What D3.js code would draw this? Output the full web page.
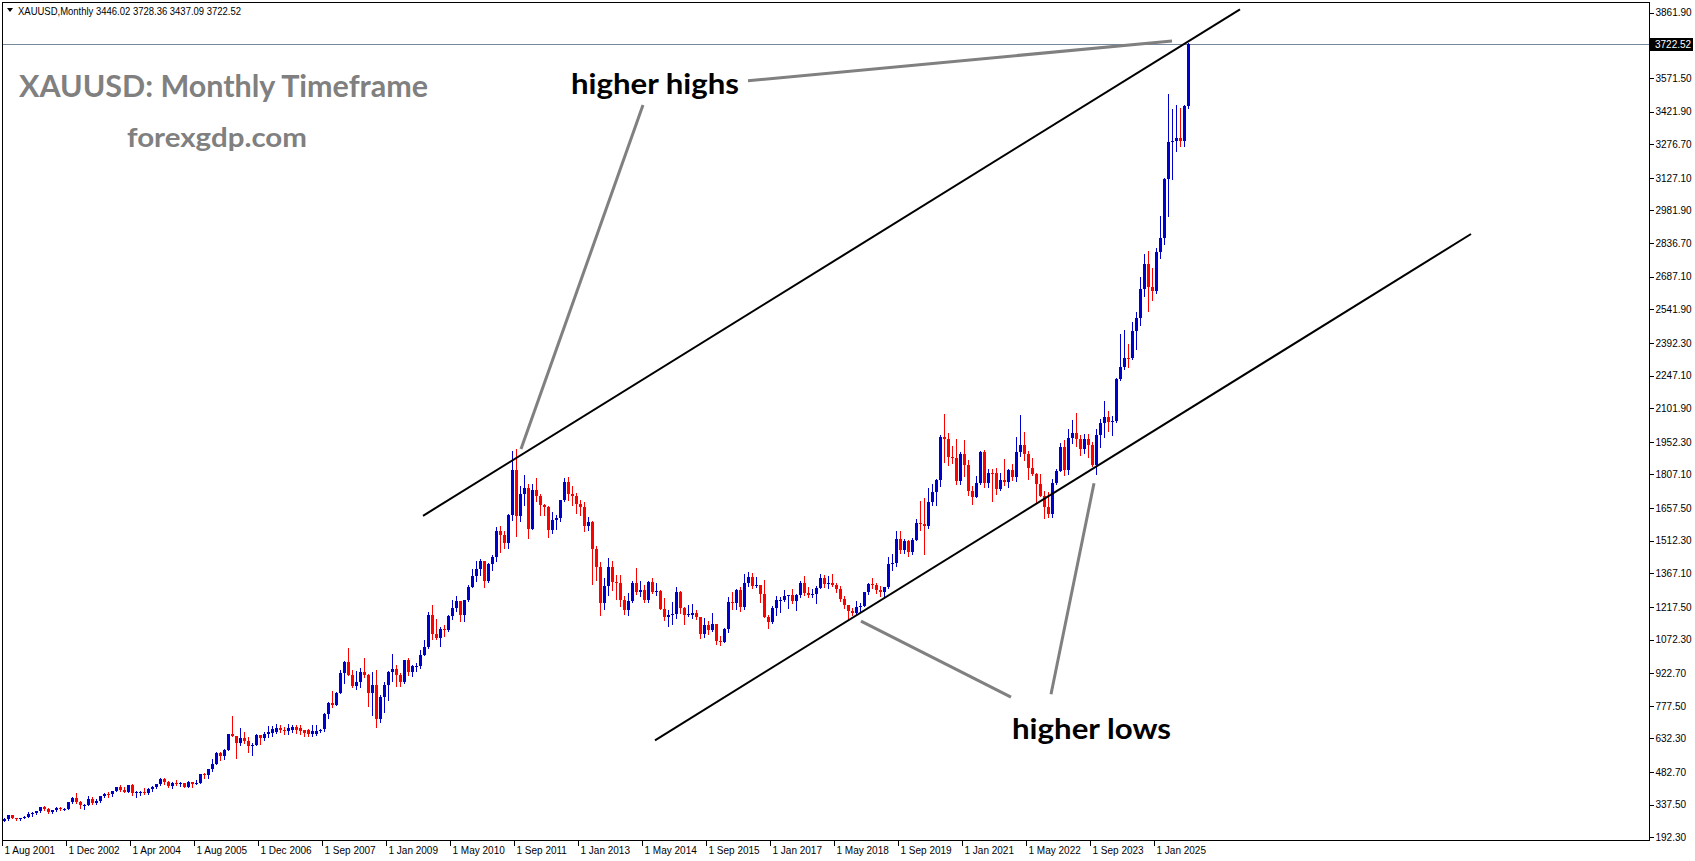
<!DOCTYPE html>
<html>
<head>
<meta charset="utf-8">
<script src="https://cdn.jsdelivr.net/npm/d3@7"></script>
<style>
  html, body { margin: 0; padding: 0; background: #fff; }
  svg { display: block; font-family: "Liberation Sans", Arial, sans-serif; }
</style>
</head>
<body>
<svg id="chart" width="1695" height="861"></svg>
<script>
// XAUUSD monthly candles, one bar per row of the MT4 history (Aug 2001 .. Sep 2025).
// Each line below is one calendar year; the 2007 line carries the broker's odd extra bars.
const barOpen = [
  265.5, 273.0, 293.1, 278.8, 275.0,
  279.0, 282.3, 296.8, 301.4, 308.2, 326.6, 318.5, 304.7, 312.8, 323.7, 316.9, 317.6,
  347.2, 367.5, 347.5, 334.9, 336.8, 363.8, 346.0, 354.8, 375.6, 385.0, 384.0, 398.4,
  416.3, 402.0, 396.0, 426.0, 387.5, 394.0, 395.0, 391.0, 408.5, 415.5, 428.0, 452.5,
  438.0, 422.0, 435.0, 428.0, 435.5, 416.5, 436.5, 429.0, 433.0, 472.5, 470.0, 494.5,
  517.0, 569.0, 556.0, 583.0, 654.0, 643.0, 614.0, 633.0, 623.0, 599.0, 604.0, 646.0,
  632.0, 652.0, 655.0, 662.0, 680.0, 670.0, 665.0, 670.0, 684.0, 680.0, 670.0, 668.0, 650.0, 652.0, 666.0, 672.6, 742.8, 789.0, 783.0,
  834, 923, 972, 916, 865, 885, 926, 913, 833, 871, 717, 815,
  869, 927, 942, 916, 883, 980, 926, 955, 955, 1003, 1040, 1182,
  1096, 1081, 1118, 1113, 1179, 1212, 1244, 1181, 1248, 1307, 1357, 1386,
  1421, 1332, 1410, 1439, 1556, 1536, 1500, 1628, 1826, 1620, 1722, 1746,
  1565, 1738, 1711, 1669, 1664, 1561, 1604, 1614, 1692, 1773, 1719, 1711,
  1675, 1663, 1578, 1596, 1476, 1393, 1234, 1312, 1396, 1327, 1323, 1250,
  1202, 1244, 1326, 1284, 1295, 1250, 1327, 1282, 1287, 1210, 1171, 1183,
  1184, 1283, 1213, 1183, 1183, 1190, 1172, 1095, 1135, 1115, 1142, 1065,
  1061, 1118, 1238, 1233, 1293, 1215, 1322, 1351, 1309, 1316, 1277, 1173,
  1152, 1211, 1249, 1249, 1268, 1269, 1242, 1269, 1322, 1280, 1271, 1275,
  1303, 1345, 1318, 1325, 1315, 1298, 1253, 1224, 1201, 1192, 1215, 1222,
  1282, 1321, 1313, 1292, 1284, 1305, 1409, 1413, 1520, 1472, 1513, 1464,
  1517, 1589, 1585, 1577, 1686, 1730, 1781, 1975, 1967, 1886, 1879, 1776,
  1898, 1847, 1734, 1708, 1769, 1906, 1770, 1814, 1813, 1743, 1783, 1774,
  1829, 1796, 1909, 1937, 1896, 1837, 1807, 1766, 1711, 1660, 1633, 1768,
  1824, 1928, 1827, 1969, 1990, 1963, 1919, 1965, 1940, 1849, 1983, 2036,
  2063, 2039, 2044, 2230, 2286, 2327, 2326, 2447, 2503, 2634, 2744, 2643,
  2624, 2798, 2858, 3124, 3288, 3289, 3303, 3290, 3446.02
];
const barHigh = [
  280.0, 293.5, 293.3, 280.0, 280.0,
  287.0, 303.0, 304.0, 310.0, 328.0, 330.0, 322.0, 316.0, 327.0, 325.0, 323.0, 349.0,
  373.0, 389.0, 352.0, 341.0, 374.0, 371.0, 361.0, 377.0, 390.0, 392.0, 400.0, 417.0,
  427.0, 418.0, 427.0, 428.0, 397.0, 398.0, 410.0, 411.0, 419.0, 431.0, 455.0, 456.0,
  443.0, 438.0, 447.0, 438.0, 436.0, 443.0, 439.0, 449.0, 474.0, 479.0, 496.0, 540.0,
  572.0, 574.0, 585.0, 654.0, 730.0, 643.0, 677.0, 663.0, 640.0, 610.0, 650.0, 648.0,
  660.0, 688.0, 687.0, 695.0, 692.0, 685.0, 695.0, 692.0, 692.0, 692.0, 672.0, 676.0, 690.0, 690.0, 676.0, 745.0, 795.0, 845.0, 838.0,
  935, 975, 1033, 937, 932, 945, 988, 917, 928, 935, 825, 882,
  932, 1006, 960, 925, 981, 991, 960, 966, 1025, 1070, 1195, 1227,
  1162, 1129, 1139, 1182, 1249, 1265, 1244, 1250, 1315, 1388, 1424, 1431,
  1424, 1412, 1448, 1575, 1577, 1557, 1632, 1913, 1921, 1756, 1803, 1764,
  1764, 1791, 1718, 1676, 1666, 1641, 1628, 1693, 1790, 1796, 1755, 1723,
  1694, 1684, 1617, 1601, 1488, 1417, 1348, 1434, 1424, 1361, 1361, 1267,
  1280, 1332, 1392, 1331, 1315, 1332, 1345, 1323, 1293, 1255, 1205, 1239,
  1308, 1288, 1219, 1224, 1232, 1205, 1174, 1170, 1157, 1191, 1143, 1088,
  1124, 1263, 1283, 1298, 1304, 1362, 1375, 1367, 1352, 1317, 1337, 1182,
  1220, 1264, 1261, 1295, 1271, 1296, 1274, 1331, 1357, 1306, 1299, 1309,
  1366, 1361, 1356, 1365, 1326, 1309, 1266, 1225, 1214, 1243, 1237, 1284,
  1326, 1347, 1324, 1310, 1306, 1439, 1453, 1555, 1557, 1518, 1516, 1525,
  1611, 1689, 1703, 1747, 1765, 1789, 1984, 2075, 1992, 1933, 1966, 1906,
  1959, 1872, 1755, 1798, 1913, 1916, 1832, 1833, 1834, 1814, 1877, 1831,
  1853, 1974, 2070, 1998, 1910, 1879, 1814, 1807, 1735, 1730, 1786, 1833,
  1949, 1959, 2009, 2048, 2079, 1983, 1987, 1987, 1953, 2009, 2052, 2135,
  2088, 2065, 2236, 2431, 2450, 2388, 2484, 2531, 2686, 2790, 2801, 2726,
  2817, 2956, 3128, 3500, 3435, 3452, 3439, 3453, 3728.36
];
const barLow = [
  264.5, 271.0, 276.0, 270.5, 271.5,
  277.0, 281.0, 288.0, 298.0, 306.0, 313.0, 301.0, 300.0, 311.0, 312.0, 314.0, 317.0,
  343.0, 344.0, 321.0, 319.0, 336.0, 342.0, 341.0, 351.0, 370.0, 370.0, 378.0, 397.0,
  399.0, 393.0, 392.0, 381.0, 372.0, 381.0, 387.0, 385.0, 398.0, 410.0, 423.0, 430.0,
  416.0, 411.0, 424.0, 421.0, 414.0, 414.0, 418.0, 428.0, 433.0, 458.0, 456.0, 489.0,
  517.0, 537.0, 540.0, 582.0, 641.0, 543.0, 605.0, 613.0, 573.0, 560.0, 603.0, 608.0,
  625.0, 640.0, 642.0, 655.0, 660.0, 652.0, 650.0, 660.0, 655.0, 652.0, 642.0, 642.0, 645.0, 648.0, 662.0, 666.0, 723.0, 774.0, 781.0,
  834, 880, 915, 861, 851, 860, 905, 775, 736, 681, 705, 752,
  802, 888, 866, 865, 880, 913, 908, 931, 946, 1002, 1033, 1075,
  1074, 1044, 1087, 1112, 1164, 1199, 1155, 1157, 1243, 1305, 1331, 1360,
  1308, 1329, 1381, 1422, 1462, 1478, 1478, 1605, 1532, 1602, 1671, 1523,
  1563, 1688, 1627, 1627, 1527, 1547, 1564, 1598, 1689, 1692, 1672, 1636,
  1626, 1555, 1562, 1321, 1338, 1180, 1208, 1270, 1291, 1251, 1221, 1187,
  1182, 1238, 1277, 1268, 1240, 1240, 1281, 1272, 1207, 1161, 1131, 1142,
  1167, 1191, 1142, 1175, 1170, 1162, 1077, 1085, 1098, 1112, 1052, 1046,
  1061, 1107, 1208, 1208, 1199, 1208, 1310, 1302, 1305, 1241, 1171, 1123,
  1146, 1180, 1194, 1245, 1214, 1236, 1205, 1262, 1272, 1260, 1263, 1236,
  1302, 1307, 1303, 1309, 1282, 1245, 1211, 1160, 1180, 1183, 1196, 1221,
  1276, 1302, 1281, 1266, 1267, 1301, 1381, 1400, 1459, 1459, 1445, 1454,
  1517, 1562, 1451, 1567, 1670, 1671, 1757, 1863, 1849, 1860, 1765, 1765,
  1802, 1717, 1677, 1705, 1765, 1750, 1751, 1688, 1721, 1737, 1759, 1753,
  1781, 1780, 1890, 1872, 1787, 1805, 1681, 1710, 1615, 1617, 1616, 1765,
  1823, 1805, 1810, 1949, 1932, 1893, 1903, 1885, 1846, 1810, 1931, 1973,
  2002, 1984, 2039, 2229, 2277, 2287, 2319, 2364, 2472, 2603, 2536, 2583,
  2614, 2772, 2833, 2957, 3121, 3246, 3268, 3268, 3437.09
];
const barClose = [
  273.0, 293.1, 278.8, 275.0, 279.0,
  282.3, 296.8, 301.4, 308.2, 326.6, 318.5, 304.7, 312.8, 323.7, 316.9, 317.6, 347.2,
  367.5, 347.5, 334.9, 336.8, 363.8, 346.0, 354.8, 375.6, 385.0, 384.0, 398.4, 416.3,
  402.0, 396.0, 426.0, 387.5, 394.0, 395.0, 391.0, 408.5, 415.5, 428.0, 452.5, 438.0,
  422.0, 435.0, 428.0, 435.5, 416.5, 436.5, 429.0, 433.0, 472.5, 470.0, 494.5, 517.0,
  569.0, 556.0, 583.0, 654.0, 643.0, 614.0, 633.0, 623.0, 599.0, 604.0, 646.0, 632.0,
  654.0, 660.0, 673.0, 680.0, 668.0, 666.0, 680.0, 682.0, 668.0, 666.0, 655.0, 650.0, 665.0, 666.0, 672.0, 742.8, 789.0, 783.0, 834.0,
  923, 972, 916, 865, 885, 926, 913, 833, 871, 717, 815, 869,
  927, 942, 916, 883, 980, 926, 955, 955, 1003, 1040, 1182, 1096,
  1081, 1118, 1113, 1179, 1212, 1244, 1181, 1248, 1307, 1357, 1386, 1421,
  1332, 1410, 1439, 1556, 1536, 1500, 1628, 1826, 1620, 1722, 1746, 1565,
  1738, 1711, 1669, 1664, 1561, 1604, 1614, 1692, 1773, 1719, 1711, 1675,
  1663, 1578, 1596, 1476, 1393, 1234, 1312, 1396, 1327, 1323, 1250, 1202,
  1244, 1326, 1284, 1295, 1250, 1327, 1282, 1287, 1210, 1171, 1183, 1184,
  1283, 1213, 1183, 1184, 1190, 1172, 1095, 1135, 1115, 1142, 1065, 1061,
  1118, 1238, 1233, 1293, 1215, 1322, 1351, 1309, 1316, 1277, 1173, 1152,
  1211, 1249, 1249, 1268, 1269, 1242, 1269, 1322, 1280, 1271, 1275, 1303,
  1345, 1318, 1325, 1315, 1298, 1253, 1224, 1201, 1192, 1215, 1222, 1282,
  1321, 1313, 1292, 1284, 1305, 1409, 1413, 1520, 1472, 1513, 1464, 1517,
  1589, 1585, 1577, 1686, 1730, 1781, 1975, 1967, 1886, 1879, 1776, 1898,
  1847, 1734, 1708, 1769, 1906, 1770, 1814, 1813, 1743, 1783, 1774, 1829,
  1796, 1909, 1937, 1896, 1837, 1807, 1766, 1711, 1660, 1633, 1768, 1824,
  1928, 1827, 1969, 1990, 1963, 1919, 1965, 1940, 1849, 1983, 2036, 2063,
  2039, 2044, 2230, 2286, 2327, 2326, 2447, 2503, 2634, 2744, 2643, 2624,
  2798, 2858, 3124, 3288, 3289, 3303, 3290, 3448, 3722.52
];

// time axis: MT4 writes a date every 16 bars
const timeLabelBars = [0, 16, 32, 48, 64, 80, 96, 112, 128, 144, 160, 176, 192, 208, 224, 240, 256, 272, 288];
const timeLabels = ["1 Aug 2001", "1 Dec 2002", "1 Apr 2004", "1 Aug 2005", "1 Dec 2006", "1 Sep 2007",
  "1 Jan 2009", "1 May 2010", "1 Sep 2011", "1 Jan 2013", "1 May 2014", "1 Sep 2015", "1 Jan 2017",
  "1 May 2018", "1 Sep 2019", "1 Jan 2021", "1 May 2022", "1 Sep 2023", "1 Jan 2025"];
const priceTicks = [192.30, 337.50, 482.70, 632.30, 777.50, 922.70, 1072.30, 1217.50, 1367.10, 1512.30,
  1657.50, 1807.10, 1952.30, 2101.90, 2247.10, 2392.30, 2541.90, 2687.10, 2836.70, 2981.90, 3127.10,
  3276.70, 3421.90, 3571.50, 3861.90];

// drawn objects, as [bar, price] end points
const channelLines = [
  [[104.75, 1623], [309, 3877]],
  [[162.75, 624], [366.75, 2877]]
];
const pointerLines = [
  [[129.25, 1920], [159.75, 3451]],
  [[186, 3559], [292, 3736]],
  [[214.25, 1154], [251.75, 816]],
  [[272.5, 1768], [261.75, 829]]
];
const notes = [
  { text: "higher highs", bar: 141.75, price: 3500, width: 168 },
  { text: "higher lows", bar: 252, price: 630, width: 159 }
];

const svg = d3.select("#chart");
const L = 2, R = 1649, T = 2, B = 840;
const n = barOpen.length;
const x = d3.scaleLinear().domain([0, n - 1]).range([4, 4 + 4 * (n - 1)]);
const y = d3.scaleLinear().domain([192.3, 3861.9]).range([837.3, 12.7]);

svg.append("defs").append("clipPath").attr("id", "plot")
  .append("rect").attr("x", L).attr("y", T).attr("width", R - L).attr("height", B - T);

// header line
const last = n - 1;
const head = svg.append("g").attr("font-size", 10.5).attr("fill", "#000");
head.append("path").attr("d", "M7,8 L13,8 L10,12 Z").attr("fill", "#000");
head.append("text").attr("x", 18).attr("y", 15)
  .attr("textLength", 223).attr("lengthAdjust", "spacingAndGlyphs")
  .text(`XAUUSD,Monthly  ${barOpen[last].toFixed(2)} ${barHigh[last].toFixed(2)} ${barLow[last].toFixed(2)} ${barClose[last].toFixed(2)}`);

const plot = svg.append("g").attr("clip-path", "url(#plot)");

// last price line
plot.append("line").attr("x1", L).attr("x2", R)
  .attr("y1", Math.round(y(barClose[last])) + 0.5).attr("y2", Math.round(y(barClose[last])) + 0.5)
  .attr("stroke", "#778899").attr("stroke-width", 1);

// candles
const bars = d3.range(n);
const up = i => barClose[i] >= barOpen[i];
const cg = plot.append("g").attr("shape-rendering", "crispEdges");
cg.selectAll("rect.wick").data(bars).join("rect").attr("class", "wick")
  .attr("x", i => x(i)).attr("width", 1)
  .attr("y", i => Math.round(y(barHigh[i])))
  .attr("height", i => Math.max(1, Math.round(y(barLow[i])) - Math.round(y(barHigh[i])) + 1))
  .attr("fill", i => up(i) ? "#0000cd" : "#ff0000");
cg.selectAll("rect.body").data(bars).join("rect").attr("class", "body")
  .attr("x", i => x(i) - 1).attr("width", 3)
  .attr("y", i => Math.round(y(Math.max(barOpen[i], barClose[i]))))
  .attr("height", i => Math.max(1, Math.round(y(Math.min(barOpen[i], barClose[i]))) - Math.round(y(Math.max(barOpen[i], barClose[i])))))
  .attr("fill", i => up(i) ? "#0000cd" : "#ff0000");

// channel + pointers
const seg = d3.line().x(d => x(d[0])).y(d => y(d[1]));
plot.selectAll("path.channel").data(channelLines).join("path").attr("class", "channel")
  .attr("d", seg).attr("stroke", "#000").attr("stroke-width", 2).attr("fill", "none");
plot.selectAll("path.pointer").data(pointerLines).join("path").attr("class", "pointer")
  .attr("d", seg).attr("stroke", "#808080").attr("stroke-width", 3).attr("fill", "none");

// notes on chart
const big = "Lato, 'Open Sans', sans-serif";
svg.append("text").attr("x", 19).attr("y", 97).attr("font-family", big).attr("font-weight", 700)
  .attr("font-size", 31).attr("fill", "#808080")
  .attr("textLength", 409).attr("lengthAdjust", "spacingAndGlyphs").text("XAUUSD: Monthly Timeframe");
svg.append("text").attr("x", 127).attr("y", 147).attr("font-family", big).attr("font-weight", 700)
  .attr("font-size", 27).attr("fill", "#808080")
  .attr("textLength", 180).attr("lengthAdjust", "spacingAndGlyphs").text("forexgdp.com");
svg.selectAll("text.note").data(notes).join("text").attr("class", "note")
  .attr("x", d => x(d.bar)).attr("y", d => y(d.price))
  .attr("font-family", big).attr("font-weight", 700).attr("font-size", 28).attr("fill", "#000")
  .attr("textLength", d => d.width).attr("lengthAdjust", "spacingAndGlyphs").text(d => d.text);

// frame
svg.append("rect").attr("x", L + 0.5).attr("y", T + 0.5).attr("width", R - L).attr("height", B - T)
  .attr("fill", "none").attr("stroke", "#000").attr("shape-rendering", "crispEdges");

// price axis
const yAxis = svg.append("g").attr("transform", `translate(${R + 0.5},0)`)
  .call(d3.axisRight(y).tickValues(priceTicks).tickSize(4).tickPadding(2).tickFormat(d3.format(".2f")));
yAxis.select(".domain").remove();
yAxis.attr("font-family", "'Liberation Sans', Arial, sans-serif").attr("font-size", 10);
yAxis.selectAll("line").attr("stroke", "#000").attr("shape-rendering", "crispEdges");
yAxis.selectAll("text").attr("fill", "#000");

// last price tag
const tagY = Math.round(y(barClose[last]));
svg.append("rect").attr("x", R + 1).attr("y", tagY - 6).attr("width", 43).attr("height", 13).attr("fill", "#000");
svg.append("text").attr("x", R + 6).attr("y", tagY + 4).attr("font-size", 10).attr("fill", "#fff")
  .text(barClose[last].toFixed(2));

// time axis
const xAxis = svg.append("g").attr("transform", `translate(0,${B + 0.5})`)
  .call(d3.axisBottom(x).tickValues(timeLabelBars).tickSize(5).tickFormat((d, k) => timeLabels[k]));
xAxis.select(".domain").remove();
xAxis.attr("font-family", "'Liberation Sans', Arial, sans-serif").attr("font-size", 10);
xAxis.selectAll(".tick").attr("transform", d => `translate(${x(d) - 1.5},0)`);
xAxis.selectAll("line").attr("stroke", "#000").attr("shape-rendering", "crispEdges");
xAxis.selectAll("text").attr("fill", "#000").attr("text-anchor", "start").attr("x", 2).attr("y", 6).attr("dy", "0.71em");
</script>
</body>
</html>
